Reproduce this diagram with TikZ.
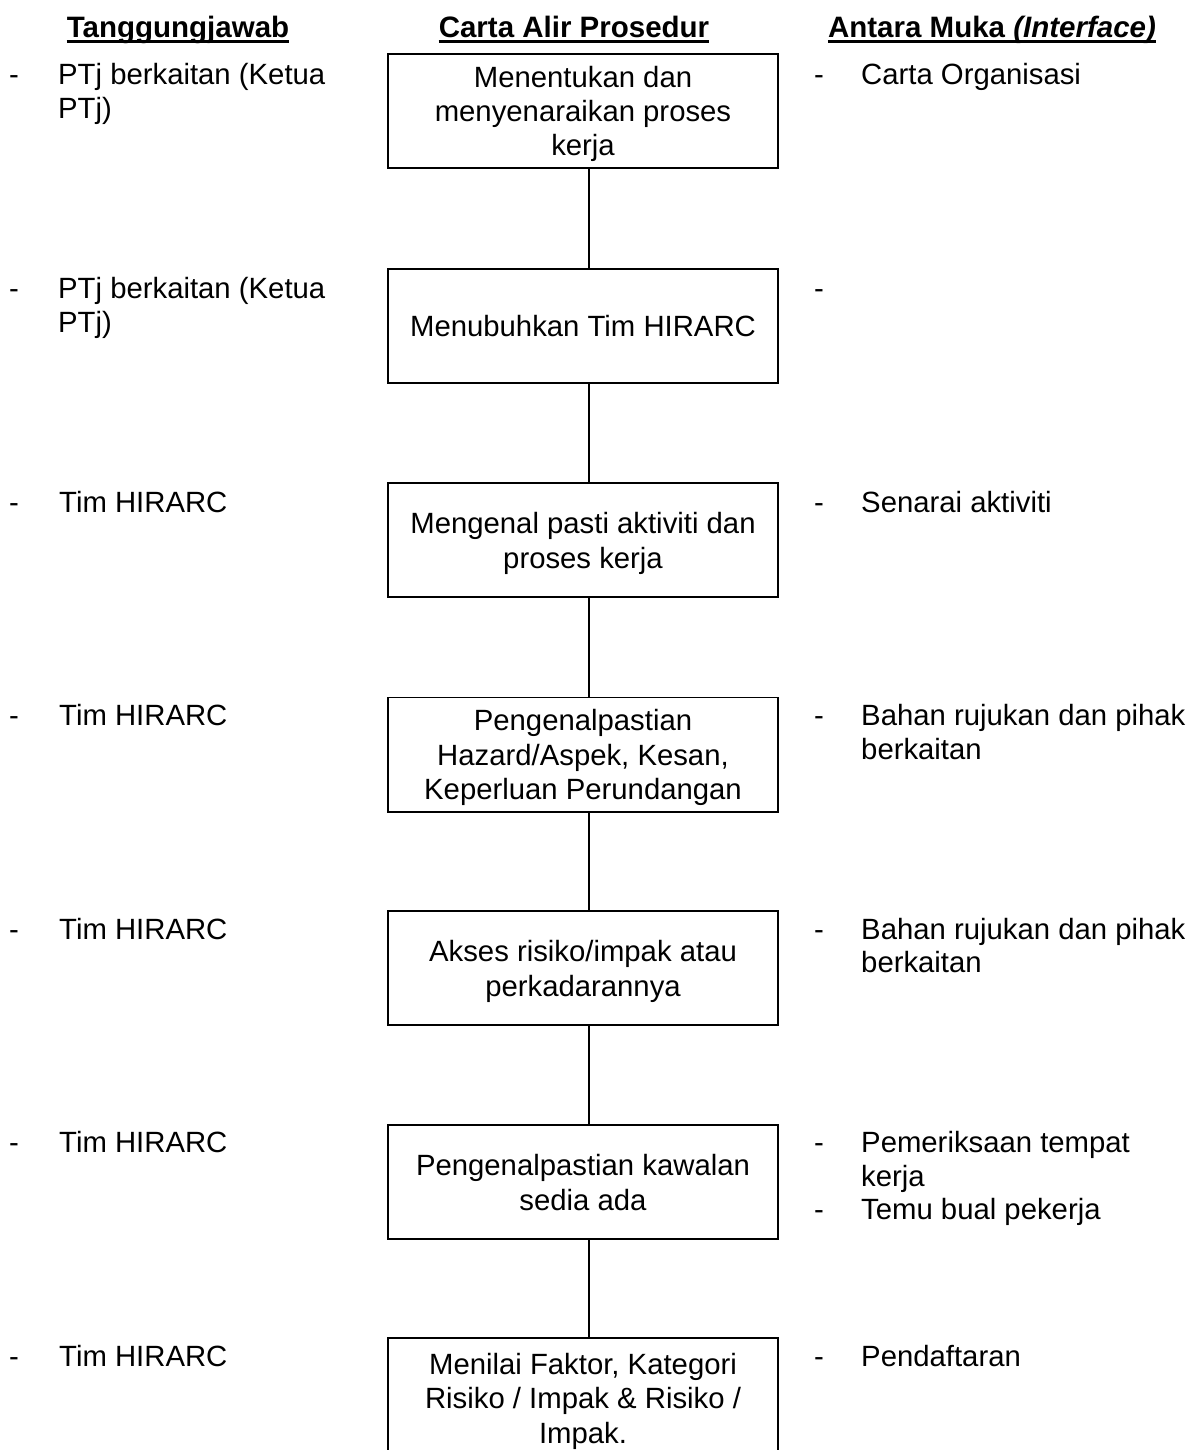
\documentclass[tikz,border=0pt]{standalone}
\usepackage{fontspec}
\setmainfont{Liberation Sans}
\newcommand\lstr{\rule[-6pt]{0pt}{33.6pt}}
\begin{document}
\begin{tikzpicture}[x=1pt,y=-1pt,
  txt/.style={font=\fontsize{29.3}{33.6}\selectfont},
  box/.style={txt, draw, line width=1.6pt, inner sep=0pt, minimum width=390.4pt, minimum height=114.4pt, align=center},
  side/.style={txt, anchor=base west, inner sep=0pt, align=left},
  hdr/.style={anchor=base, inner sep=0pt, font=\bfseries\fontsize{29.5}{33.6}\selectfont},
  uline/.style={line width=2.3pt},
  conn/.style={line width=1.8pt}]
\useasboundingbox (0,0) rectangle (1197,1450);
% headers
\node[hdr] (h1) at (178,38) {Tanggungjawab};
\node[hdr] (h2) at (574,38) {Carta Alir Prosedur};
\node[hdr] (h3) at (992,38) {Antara Muka \textit{(Interface)}};
\foreach \h in {h1,h2,h3}
  \draw[uline] ([yshift=-3.4pt]\h.base west) -- ([yshift=-3.4pt]\h.base east);
% boxes
\node[box] (b1) at (583,111) {\lstr Menentukan dan\\\lstr menyenaraikan proses\\\lstr kerja};
\node[box] (b2) at (583,326) {\lstr Menubuhkan Tim HIRARC};
\node[box] (b3) at (583,540) {\lstr Mengenal pasti aktiviti dan\\\lstr proses kerja};
\node[box] (b4) at (583,754.5) {\lstr Pengenalpastian\\\lstr Hazard/Aspek, Kesan,\\\lstr Keperluan Perundangan};
\node[box] (b5) at (583,968) {\lstr Akses risiko/impak atau\\\lstr perkadarannya};
\node[box] (b6) at (583,1182) {\lstr Pengenalpastian kawalan\\\lstr sedia ada};
\node[box, minimum height=120pt] (b7) at (583,1398) {\lstr Menilai Faktor, Kategori\\\lstr Risiko / Impak \& Risiko /\\\lstr Impak.};
% connectors
\foreach \a/\b in {b1/b2,b2/b3,b3/b4,b4/b5,b5/b6,b6/b7}
  \draw[conn] ([xshift=6pt]\a.south) -- ([xshift=6pt]\b.north);
% left column (multi-line nodes are placed by the baseline of their last line)
\node[side] (dl1) at (9,85) {-};
\node[side] (l1) at (58,118.6) {PTj berkaitan (Ketua\\PTj)};
\node[side] (dl2) at (9,298.5) {-};
\node[side] (l2) at (58,332.1) {PTj berkaitan (Ketua\\PTj)};
\node[side] (dl3) at (9,512) {-};
\node[side] (l3) at (59,512) {Tim HIRARC};
\node[side] (dl4) at (9,725.5) {-};
\node[side] (l4) at (59,725.5) {Tim HIRARC};
\node[side] (dl5) at (9,939) {-};
\node[side] (l5) at (59,939) {Tim HIRARC};
\node[side] (dl6) at (9,1152.5) {-};
\node[side] (l6) at (59,1152.5) {Tim HIRARC};
\node[side] (dl7) at (9,1366) {-};
\node[side] (l7) at (59,1366) {Tim HIRARC};
% right column
\node[side] (dr1) at (814,85) {-};
\node[side] (r1) at (861,85) {Carta Organisasi};
\node[side] (dr2) at (814,298.5) {-};
\node[side] (dr3) at (814,512) {-};
\node[side] (r3) at (861,512) {Senarai aktiviti};
\node[side] (dr4) at (814,725.5) {-};
\node[side] (r4) at (861,759.1) {Bahan rujukan dan pihak\\berkaitan};
\node[side] (dr5) at (814,939) {-};
\node[side] (r5) at (861,972.6) {Bahan rujukan dan pihak\\berkaitan};
\node[side] (dr6) at (814,1152.5) {-};
\node[side] (r6) at (861,1186.1) {Pemeriksaan tempat\\kerja};
\node[side] (dr6b) at (814,1219.7) {-};
\node[side] (r6b) at (861,1219.7) {Temu bual pekerja};
\node[side] (dr7) at (814,1366) {-};
\node[side] (r7) at (861,1366) {Pendaftaran};
\end{tikzpicture}
\end{document}
